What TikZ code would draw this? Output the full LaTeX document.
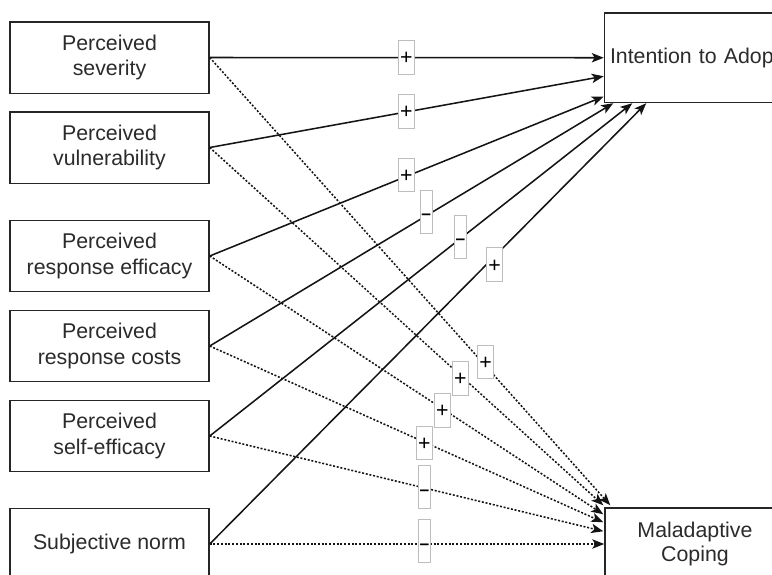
\documentclass[tikz,border=0pt]{standalone}
\usepackage{fontspec}
\setmainfont{Liberation Sans}
\usetikzlibrary{arrows.meta,calc}

\definecolor{boxline}{HTML}{262626}
\definecolor{edgeline}{HTML}{141414}
\definecolor{signline}{HTML}{BDBDBD}
\definecolor{txt}{HTML}{2B2B2B}

\begin{document}
\begin{tikzpicture}[x=0.75pt,y=-0.75pt,
  factor/.style={draw=boxline, line width=1.1pt, fill=white, text=txt,
    minimum width=149.25pt, minimum height=53.6pt, inner sep=0pt,
    align=center, font=\fontsize{16}{19}\selectfont},
  outcome/.style={draw=boxline, line width=1.1pt, fill=white, text=txt,
    minimum width=135pt, inner sep=0pt, font=\fontsize{16}{18}\selectfont},
  path/.style={draw=edgeline, line width=1.15pt,
    -{Stealth[length=9pt, width=7pt, inset=2.2pt]}},
  weak/.style={path, dash pattern=on 1.5pt off 1.3pt},
  plus/.style={draw=signline, line width=0.7pt, fill=white, text=black,
    inner sep=0pt, minimum width=12pt, text height=18.2pt, text depth=7pt,
    font=\fontsize{16}{18}\selectfont},
  minus/.style={draw=signline, line width=0.7pt, fill=white, text=black,
    inner sep=0pt, minimum width=9.2pt, text height=22.1pt, text depth=10.1pt,
    font=\fontsize{13}{15}\selectfont\bfseries}
]
\useasboundingbox (0,0) rectangle (772,575);
\clip (0,0) rectangle (772,575);
\fill[white] (0,0) rectangle (772,575);

% predictors
\node[factor] (S1) at (109.5,57.5)  {Perceived\\severity};
\node[factor] (S2) at (109.5,147.5) {Perceived\\vulnerability};
\node[factor] (S3) at (109.5,256)   {Perceived\\response efficacy};
\node[factor] (S4) at (109.5,346)   {Perceived\\response costs};
\node[factor] (S5) at (109.5,436)   {Perceived\\self-efficacy};
\node[factor] (S6) at (109.5,544)   {Subjective norm};

% outcomes
\node[outcome, minimum height=67.1pt, text width=126.75pt, align=left,
  inner xsep=2pt] (T) at (694.5,57.75) {Intention to Adop};
\node[outcome, minimum height=54pt, align=center] (M) at (695,544)
  {Maladaptive\\Coping};

% arrow ends on the outcome boxes
\coordinate (ta2) at ($(T.west)+(0,18.5)$);
\coordinate (ta3) at ($(T.west)+(0,38.75)$);
\coordinate (ta4) at ($(T.south west)+(9.5,0)$);
\coordinate (ta5) at ($(T.south west)+(28.5,0)$);
\coordinate (ta6) at ($(T.south west)+(42.5,0)$);
\coordinate (mb1) at ($(M.north west)+(6,-2)$);
\coordinate (mb2) at ($(M.north west)+(-1,-2)$);
\coordinate (mb3) at ($(M.north west)+(-1,7)$);
\coordinate (mb4) at ($(M.north west)+(-1,15)$);
\coordinate (mb5) at ($(M.north west)+(-1,24)$);

% effects on intention
\draw[path] (S1.east) -- (T.west);
\draw[path] (S2.east) -- (ta2);
\draw[path] (S3.east) -- (ta3);
\draw[path] (S4.east) -- (ta4);
\draw[path] (S5.east) -- (ta5);
\draw[path] (S6.east) -- (ta6);

% effects on maladaptive coping
\draw[weak] (S1.east) -- (mb1);
\draw[weak] (S2.east) -- (mb2);
\draw[weak] (S3.east) -- (mb3);
\draw[weak] (S4.east) -- (mb4);
\draw[weak] (S5.east) -- (mb5);
\draw[weak] (S6.east) -- (M.west);

% signs of the effects
\node[plus]  (l1)  at (406.3,57.5)  {+};
\node[plus]  (l2)  at (406.3,111.5) {+};
\node[plus]  (l3)  at (406.3,175)   {+};
\node[minus] (l4)  at (426.2,211.5) {–};
\node[minus] (l5)  at (460.5,236.8) {–};
\node[plus]  (l6)  at (494.5,264.7) {+};
\node[plus]  (l7)  at (485.5,362)   {+};
\node[plus]  (l8)  at (460.3,378.5) {+};
\node[plus]  (l9)  at (442.3,410.5) {+};
\node[plus]  (l10) at (424.3,443)   {+};
\node[minus] (l11) at (424.5,487.2) {–};
\node[minus] (l12) at (424.5,541.2) {–};
\end{tikzpicture}
\end{document}
